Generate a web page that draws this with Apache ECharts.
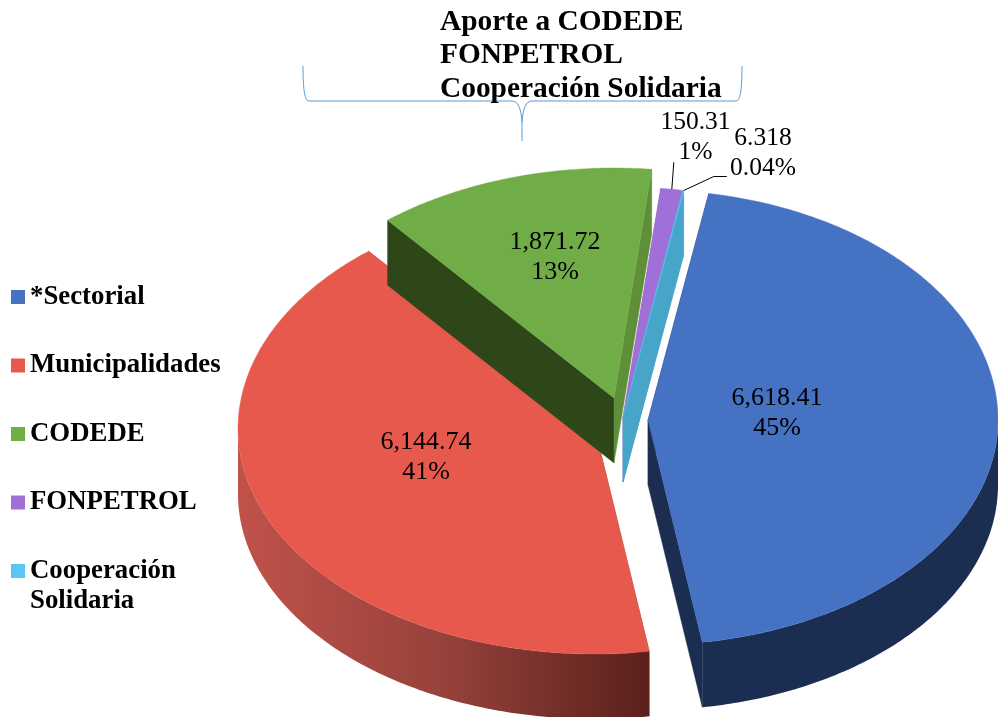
<!DOCTYPE html>
<html><head><meta charset="utf-8">
<style>html,body{margin:0;padding:0;background:#fff}#c{width:998px;height:717px}</style>
<script src="https://cdn.jsdelivr.net/npm/echarts@6/dist/echarts.min.js"></script>
</head><body><div id="c"></div>
<script>
// ---- data ----
const categories = ['*Sectorial', 'Municipalidades', 'CODEDE', 'FONPETROL', 'Cooperación Solidaria'];
const values = [6618.41, 6144.74, 1871.72, 150.31, 6.318];
const valueLabels = ['6,618.41', '6,144.74', '1,871.72', '150.31', '6.318'];
const percentLabels = ['45%', '41%', '13%', '1%', '0.04%'];
const titleLines = ['Aporte a CODEDE', 'FONPETROL', 'Cooperación Solidaria'];

// ---- style / layout ----
const topColors = ['#4672c4', '#e8594d', '#70ad47', '#a070d8', '#56c8f2'];
const startWall = ['#1b2e52', '#8f3f38', '#2d4719', '#8a5fc0', '#46a5c8'];
const endWall = ['#1b2e52', '#8f3f38', '#5f8f38', '#8a5fc0', '#46a5c8'];
const explodeOffset = [[28, 0], [-25, 9], [-6, -22], [3, -3], [3, -3]];
const labelOffset = [[129, -7], [-169, 28.5], [-59, -141], [72.5, -280], [140, -264]];
const labelSize = [26, 26, 26, 25.5, 25.5];
const SERIF = '"Liberation Serif","Times New Roman",serif';
const PIE = { cx: 620, cy: 420, rxLeft: 357, rxRight: 350, ryBack: 230, ryFront: 225, depth: 65, startDeg: 10 };

const total = values.reduce((a, b) => a + b, 0);
const spans = [];
(function () {
  let a = PIE.startDeg;
  values.forEach(v => { const s = v / total * 360; spans.push([a, a + s]); a += s; });
})();

function pt(apex, deg, dy) {
  const t = deg * Math.PI / 180;
  const s = Math.sin(t), c = Math.cos(t);
  return [apex[0] + (s >= 0 ? PIE.rxRight : PIE.rxLeft) * s, apex[1] - (c >= 0 ? PIE.ryBack : PIE.ryFront) * c + (dy || 0)];
}
function arc(apex, a0, a1, dy) {
  const n = Math.max(2, Math.ceil(Math.abs(a1 - a0) * 1.5));
  const out = [];
  for (let i = 0; i <= n; i++) out.push(pt(apex, a0 + (a1 - a0) * i / n, dy));
  return out;
}
function renderSlice(params, api) {
  const i = params.seriesIndex;
  const [a0, a1] = spans[i];
  const apex = [PIE.cx + explodeOffset[i][0], PIE.cy + explodeOffset[i][1]];
  const d = PIE.depth;
  const children = [];
  const poly = (points, fill) => children.push({ type: 'polygon', shape: { points }, style: { fill, stroke: fill, lineWidth: 0.4 } });
  // cut faces
  poly([apex, [apex[0], apex[1] + d], pt(apex, a0, d), pt(apex, a0)], startWall[i]);
  poly([apex, [apex[0], apex[1] + d], pt(apex, a1, d), pt(apex, a1)], endWall[i]);
  // outer wall (only front half)
  const w0 = Math.max(a0, 90), w1 = Math.min(a1, 270);
  if (w1 > w0) {
    const top = arc(apex, w0, w1), bottom = arc(apex, w1, w0, d);
    const wallFill = i === 1
      ? new echarts.graphic.LinearGradient(0, 0, 1, 0, [
          { offset: 0, color: '#c0524a' }, { offset: 0.5, color: '#96423b' }, { offset: 1, color: '#5a201b' }
        ])
      : startWall[i];
    children.push({ type: 'polygon', shape: { points: top.concat(bottom) }, style: { fill: wallFill } });
  }
  // top face
  poly([apex].concat(arc(apex, a0, a1)), topColors[i]);
  // leader lines
  if (i === 3) {
    const c = pt(apex, (a0 + a1) / 2);
    children.push({ type: 'polyline', shape: { points: [c, [c[0] + 2, c[1] - 27]] }, style: { stroke: '#000', lineWidth: 1, fill: null } });
  }
  if (i === 4) {
    const c = pt(apex, a1);
    children.push({ type: 'polyline', shape: { points: [c, [c[0] + 30, c[1] - 14], [c[0] + 43, c[1] - 14]] }, style: { stroke: '#000', lineWidth: 1, fill: null } });
  }
  // data label
  children.push({
    type: 'text',
    style: {
      x: apex[0] + labelOffset[i][0], y: apex[1] + labelOffset[i][1],
      text: valueLabels[i] + '\n' + percentLabels[i],
      fill: '#000', font: labelSize[i] + 'px ' + SERIF, lineHeight: 30, align: 'center', verticalAlign: 'middle'
    }
  });
  return { type: 'group', children };
}

const bracket = '#5b9bd5';
const bLine = (x1, y1, x2, y2) => ({ type: 'line', shape: { x1, y1, x2, y2 }, style: { stroke: bracket, lineWidth: 1 } });
const bCurve = (x1, y1, cpx1, cpy1, cpx2, cpy2, x2, y2) => ({ type: 'bezierCurve', shape: { x1, y1, cpx1, cpy1, cpx2, cpy2, x2, y2 }, style: { stroke: bracket, lineWidth: 1, fill: null } });

const order = [1, 0, 2, 3, 4];
const chart = echarts.init(document.getElementById('c'), null, { renderer: 'canvas' });
chart.setOption({
  animation: false,
  backgroundColor: '#fff',
  title: {
    text: titleLines.join('\n'), left: 440, top: 5.5, padding: 0,
    textStyle: { fontFamily: SERIF, fontWeight: 'bold', fontSize: 29.4, lineHeight: 33.5, color: '#000' }
  },
  legend: {
    orient: 'vertical', left: 11, top: 252, padding: 0, itemGap: -21.5,
    itemWidth: 14, itemHeight: 14, icon: 'rect', selectedMode: false,
    data: categories,
    formatter: n => '\n' + (n === 'Cooperación Solidaria' ? 'Cooperación\nSolidaria' : n + '\n'),
    textStyle: { fontFamily: SERIF, fontWeight: 'bold', fontSize: 26.8, lineHeight: 30, color: '#000' }
  },
  graphic: { elements: [
    bCurve(303, 66, 303, 85, 304, 101, 309, 101),
    bLine(309, 101, 512, 101),
    bCurve(512, 101, 518, 101, 521, 108, 522, 122),
    bLine(522, 122, 522, 141),
    bCurve(522, 122, 523, 108, 526, 101, 532, 101),
    bLine(532, 101, 736, 101),
    bCurve(736, 101, 741, 101, 742, 85, 742, 66)
  ] },
  series: categories.map((name, i) => ({
    type: 'custom', name, coordinateSystem: 'none', silent: true,
    z: 2 + order.indexOf(i),
    itemStyle: { color: topColors[i] },
    data: [[values[i]]],
    renderItem: renderSlice
  }))
});
</script>
</body></html>
